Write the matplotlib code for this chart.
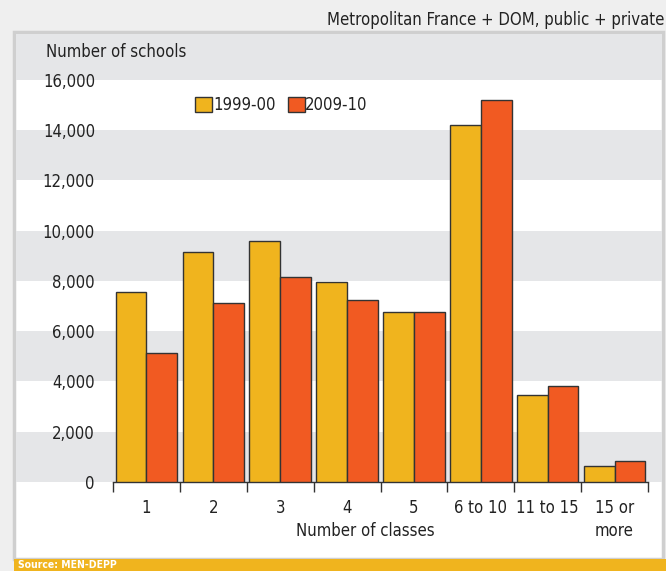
import matplotlib
matplotlib.use("Agg")
import matplotlib.pyplot as plt
from matplotlib.patches import Rectangle, Patch
from matplotlib.transforms import blended_transform_factory
from matplotlib.ticker import FuncFormatter, FixedLocator
import numpy as np

categories = ["1", "2", "3", "4", "5", "6 to 10", "11 to 15", "15 or\nmore"]
series_names = ["1999-00", "2009-10"]
values_1999 = [7550, 9150, 9600, 7950, 6750, 14200, 3450, 620]
values_2009 = [5150, 7100, 8150, 7250, 6750, 15200, 3800, 820]
yticks = [0, 2000, 4000, 6000, 8000, 10000, 12000, 14000, 16000]

YELLOW = "#f0b41e"
RED = "#f15a22"
GREY = "#e5e6e8"
TXT = "#222222"

plt.rcParams['font.family'] = ['DejaVu Sans']
plt.rcParams['font.stretch'] = 'condensed'

W, H = 666, 571
fig = plt.figure(figsize=(W / 100, H / 100), dpi=100, facecolor="#efefef")

def fx(px):
    return px / W

def fy(py):
    return 1 - py / H

FS = 12

# panel
panel = Rectangle((fx(14), fy(559)), fx(663) - fx(14), fy(32) - fy(559),
                  transform=fig.transFigure, facecolor="white",
                  edgecolor="#cfcfcf", linewidth=2.5, zorder=0)
fig.patches.append(panel)

ax = fig.add_axes([fx(113), fy(482), fx(648) - fx(113), fy(79.7) - fy(482)])
ax.set_zorder(3)
ax.set_facecolor("none")
ax.set_ylim(0, 16000)
ax.set_xlim(-0.5, len(categories) - 0.5)

# stripes in figure x, data y
tr = blended_transform_factory(fig.transFigure, ax.transData)
for lo in [12000, 8000, 4000, 0]:
    r = Rectangle((fx(15.5), lo), fx(661.5) - fx(15.5), 2000, transform=tr,
                  facecolor=GREY, edgecolor="none", zorder=0.5, clip_on=False)
    fig.patches.append(r)
# top band
top = Rectangle((fx(15.5), fy(79.7)), fx(661.5) - fx(15.5), fy(33.5) - fy(79.7),
                transform=fig.transFigure, facecolor=GREY, edgecolor="none", zorder=0.5)
fig.patches.append(top)

x = np.arange(len(categories))
w = 0.46
ax.bar(x - w / 2, values_1999, width=w, color=YELLOW, edgecolor="#333333",
       linewidth=1.0, zorder=3, label=series_names[0])
ax.bar(x + w / 2, values_2009, width=w, color=RED, edgecolor="#333333",
       linewidth=1.0, zorder=3, label=series_names[1])

for s in ["top", "right", "left"]:
    ax.spines[s].set_visible(False)
ax.spines["bottom"].set_color("#333333")
ax.spines["bottom"].set_linewidth(1.0)

ax.set_yticks(yticks)
ax.yaxis.set_major_formatter(FuncFormatter(lambda v, p: f"{int(v):,}"))
ax.tick_params(axis="y", length=0, pad=13, labelsize=FS, labelcolor=TXT)

ax.xaxis.set_major_locator(FixedLocator(np.arange(-0.5, len(categories), 1.0)))
ax.xaxis.set_minor_locator(FixedLocator(x))
ax.set_xticklabels([], minor=False)
ax.set_xticklabels(categories, minor=True)
ax.tick_params(axis="x", which="major", length=7, width=1.0, color="#333333", direction="out")
ax.tick_params(axis="x", which="minor", length=0, pad=12, labelsize=FS, labelcolor=TXT)
for lab in ax.get_xticklabels(minor=True):
    lab.set_verticalalignment("top")
    lab.set_linespacing(1.35)

fig.text(fx(365), fy(531), "Number of classes", ha="center", va="center",
         fontsize=FS, color=TXT)
fig.text(fx(46), fy(52), "Number of schools", ha="left", va="center",
         fontsize=FS, color=TXT)
fig.text(fx(664), fy(20), "Metropolitan France + DOM, public + private",
         ha="right", va="center", fontsize=FS, color=TXT)

handles = [Patch(facecolor=YELLOW, edgecolor="#333333", linewidth=1.0),
           Patch(facecolor=RED, edgecolor="#333333", linewidth=1.0)]
fig.legend(handles, series_names, loc="center left",
           bbox_to_anchor=(fx(192), fy(105)), ncol=2, frameon=False,
           fontsize=FS, handlelength=1.0, handleheight=1.0,
           handletextpad=0.05, columnspacing=0.75, borderpad=0.2,
           borderaxespad=0.0, labelcolor=TXT)

# source bar
src = Rectangle((fx(14), 0), 1 - fx(14), fy(559), transform=fig.transFigure,
                facecolor=YELLOW, edgecolor="none", zorder=1)
fig.patches.append(src)
fig.text(fx(18), fy(565), "Source: MEN-DEPP", ha="left", va="center",
         fontsize=7.5, color="white", fontweight="bold")

fig.savefig("out.png", dpi=100, facecolor=fig.get_facecolor())
